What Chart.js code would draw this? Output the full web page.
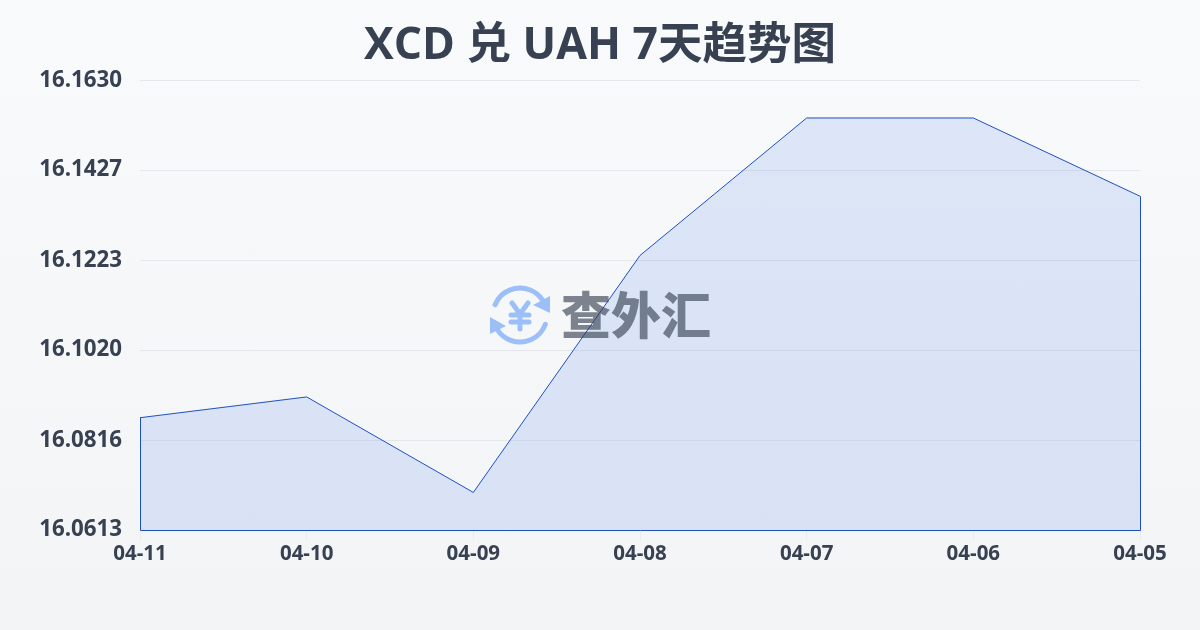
<!DOCTYPE html>
<html><head><meta charset="utf-8">
<style>
html,body{margin:0;padding:0;width:1200px;height:630px;overflow:hidden;background:linear-gradient(180deg,#f9fafb 0%,#f3f4f6 100%);}
#w{position:absolute;left:0;top:0;width:1200px;height:630px;}
</style>
<script src="https://cdn.jsdelivr.net/npm/chart.js@4/dist/chart.umd.js"></script>
</head><body><div id="w"><canvas id="c" width="1200" height="630"></canvas></div>
<script>
const categories = ['04-11','04-10','04-09','04-08','04-07','04-06','04-05'];
const rates = [16.0867,16.0914,16.0698,16.1234,16.1545,16.1545,16.1368];
const yTicks = [16.0613,16.0816,16.1020,16.1223,16.1427,16.1630];
const titleText = 'XCD 兑 UAH 7天趋势图';
const watermarkText = '查外汇';
const FONT = '"Open Sans","Noto Sans CJK SC",sans-serif';

const watermark = {
  id:'watermark',
  afterDatasetsDraw(chart){
    const c = chart.ctx; c.save();
    c.strokeStyle = '#9dbff8'; c.fillStyle='#9dbff8'; c.lineWidth=5; c.lineCap='round'; c.lineJoin='round';
    const x=520,y=315,r=27;
    c.beginPath(); c.arc(x,y,r,-2.75,-0.6); c.stroke();
    c.beginPath(); c.arc(x,y,r,0.35,2.55); c.stroke();
    c.beginPath(); c.moveTo(550,296); c.lineTo(550,313); c.lineTo(533,305); c.closePath(); c.fill();
    c.beginPath(); c.moveTo(490,317); c.lineTo(490,334); c.lineTo(506,326); c.closePath(); c.fill();
    c.lineWidth=5;
    c.beginPath(); c.moveTo(512,303); c.lineTo(520,314); c.lineTo(528,303);
    c.moveTo(520,314); c.lineTo(520,329);
    c.moveTo(511,315); c.lineTo(529,315);
    c.moveTo(511,322); c.lineTo(529,322); c.stroke();
    c.globalAlpha=0.64;
    c.fillStyle='#374151';
    c.font='900 50px "Noto Sans CJK SC"'; c.textAlign='left'; c.textBaseline='middle';
    c.fillText(watermarkText,561,315);
    c.restore();
  }
};
const outline = {
  id:'outline',
  afterDatasetsDraw(chart){
    const pts = chart.getDatasetMeta(0).data, b = Math.round(chart.scales.y.bottom)+0.5, c = chart.ctx;
    const first = pts[0], last = pts[pts.length-1];
    const lx = Math.round(first.x)+0.5, rx = Math.round(last.x)+0.5;
    c.save(); c.strokeStyle='#1e4fc4'; c.lineWidth=1;
    c.beginPath(); c.moveTo(lx,first.y); c.lineTo(lx,b); c.lineTo(rx,b); c.lineTo(rx,last.y); c.stroke();
    c.restore();
  }
};

new Chart(document.getElementById('c'),{
  type:'line',
  data:{labels:categories,datasets:[{data:rates,borderColor:'#1e4fc4',borderWidth:1,backgroundColor:'rgba(37,99,235,0.13)',fill:true,pointRadius:0,tension:0}]},
  plugins:[outline,watermark],
  options:{
    responsive:false,animation:false,
    layout:{padding:0},
    plugins:{
      legend:{display:false},tooltip:{enabled:false},
      title:{display:true,text:titleText,color:'#374151',font:{family:FONT,size:44.5,weight:'700'},padding:{top:20,bottom:7}}
    },
    scales:{
      x:{offset:false,
        grid:{drawOnChartArea:false,drawTicks:true,tickLength:10,color:'#e9ebee'},
        border:{display:false},
        afterFit(s){s.height=100;},
        ticks:{color:'#374151',font:{family:FONT,size:20.5,weight:'700'},maxRotation:0,autoSkip:false,padding:2}
      },
      y:{min:yTicks[0],max:yTicks[yTicks.length-1],
        afterBuildTicks(s){s.ticks=yTicks.map(v=>({value:v}));},
        afterFit(s){s.width=140;},
        grid:{color:'#e5e7eb',lineWidth:1,drawTicks:false},
        border:{display:false},
        ticks:{color:'#374151',font:{family:FONT,size:22.3,weight:'700'},padding:18,callback:v=>v.toFixed(4)}
      },
      rightGap:{position:'right',display:true,grid:{display:false},border:{display:false},ticks:{display:false},afterFit(s){s.width=60;}}
    }
  }
});
</script></body></html>
